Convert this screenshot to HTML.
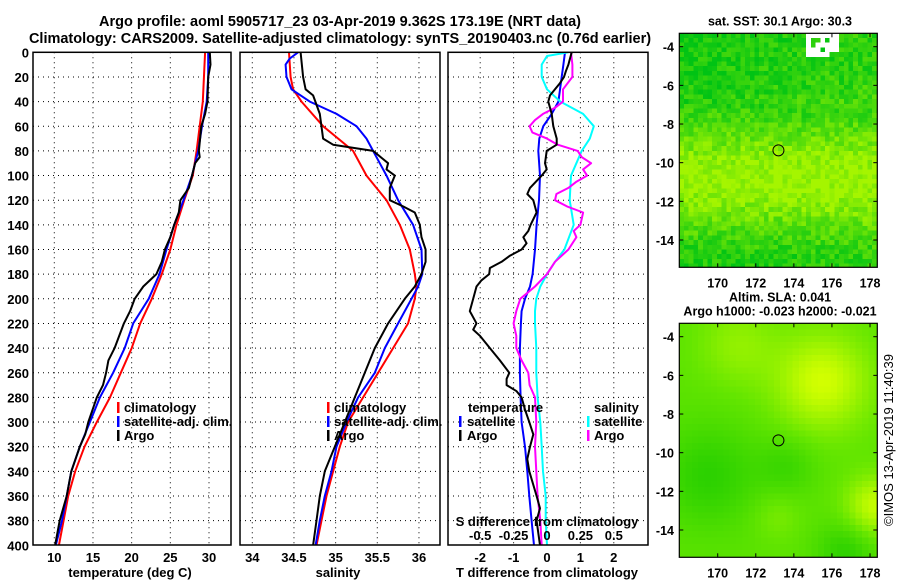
<!DOCTYPE html>
<html><head><meta charset="utf-8">
<style>
body{margin:0;background:#fff;}
svg{display:block;font-family:"Liberation Sans",sans-serif;font-weight:bold;}
</style></head>
<body>
<svg id="fig" width="900" height="580" viewBox="0 0 900 580">
<text x="340" y="26" font-size="14.5" text-anchor="middle">Argo profile: aoml 5905717_23 03-Apr-2019 9.362S 173.19E (NRT data)</text>
<text x="340" y="43" font-size="14.5" text-anchor="middle">Climatology: CARS2009. Satellite-adjusted climatology: synTS_20190403.nc (0.76d earlier)</text>
<g id="maps"></g>
<g id="plots"></g>
<text transform="translate(893,440) rotate(-90)" font-size="13" font-weight="normal" text-anchor="middle">©IMOS 13-Apr-2019 11:40:39</text>
</svg>
<script>
// ---------- data ----------
const tDepthClim=[0,40,60,80,100,120,140,160,180,200,220,240,260,280,300,320,340,360,380,400];
const tempClim=[29.5,29.2,28.8,28.4,27.9,26.8,25.8,25.0,23.9,22.6,21.1,20.0,18.6,17.2,15.5,13.9,12.7,11.8,11.2,10.6];
const tDepthSat=[0,20,40,60,80,100,120,140,160,180,200,220,240,260,280,300,320,340,360,380,400];
const tempSat=[29.9,29.9,29.7,29.1,28.6,27.8,26.7,25.5,24.5,23.6,22.2,20.2,19.1,17.6,15.9,14.6,13.3,12.2,11.6,11.0,10.2];
const tDepthArgo=[0,10,20,40,50,60,80,85,90,100,110,120,130,140,150,160,170,180,190,200,210,220,240,250,260,270,280,300,310,320,340,360,380,400];
const tempArgo=[30.1,30.2,29.9,29.8,29.5,29.0,28.7,28.8,28.2,27.8,27.4,26.3,26.1,25.5,25.0,24.3,23.9,23.2,21.5,20.4,19.8,19.0,17.8,17.0,16.7,16.3,15.5,14.4,14.0,13.3,12.2,11.6,10.7,10.1];

const sDepthClim=[0,20,30,40,60,80,100,120,140,160,180,190,200,220,240,260,280,300,320,340,360,380,400];
const salClim=[34.44,34.46,34.49,34.59,34.85,35.21,35.37,35.61,35.77,35.89,35.95,35.97,35.95,35.87,35.69,35.51,35.33,35.15,35.05,34.97,34.89,34.83,34.77];
const sDepthSat=[0,5,10,20,30,40,50,60,70,80,100,120,140,160,180,190,200,220,240,260,280,300,320,340,360,380,400];
const salSat=[34.55,34.45,34.40,34.41,34.47,34.69,35.01,35.25,35.37,35.45,35.61,35.75,35.93,36.03,36.04,35.99,35.91,35.75,35.59,35.47,35.27,35.13,35.01,34.95,34.87,34.81,34.76];
const sDepthArgo=[0,20,30,35,50,70,75,80,90,95,100,110,120,125,130,140,150,160,170,180,190,200,210,220,240,260,270,280,300,320,330,340,360,380,400];
const salArgo=[34.58,34.61,34.64,34.73,34.81,34.85,34.97,35.45,35.63,35.61,35.71,35.65,35.65,35.81,35.95,36.01,36.03,36.08,36.08,36.03,35.95,35.83,35.73,35.63,35.47,35.35,35.29,35.23,35.11,34.99,34.93,34.87,34.81,34.77,34.73];

const dtSatDepth=[0,10,20,40,50,60,70,80,100,120,140,160,180,190,200,210,220,240,260,280,300,320,340,360,380,400];
const dtSat=[0.54,0.49,0.44,0.34,0.14,-0.11,-0.23,-0.26,-0.21,-0.24,-0.31,-0.36,-0.43,-0.51,-0.66,-0.76,-0.78,-0.81,-0.81,-0.79,-0.76,-0.66,-0.59,-0.53,-0.46,-0.39];
const dtArgoDepth=[0,5,10,15,20,25,30,35,40,50,60,70,75,80,90,95,100,110,115,120,130,140,145,150,155,160,165,170,175,180,185,190,200,210,215,220,225,230,240,250,260,265,270,275,280,290,300,310,320,330,340,360,370,380,390,400];
const dtArgo=[0.74,0.69,0.64,0.57,0.51,0.39,0.24,0.09,0.04,0.14,0.19,0.29,0.29,-0.01,-0.06,-0.01,-0.16,-0.51,-0.59,-0.41,-0.31,-0.49,-0.56,-0.71,-0.61,-0.76,-1.11,-1.36,-1.71,-1.73,-1.96,-2.11,-2.21,-2.31,-2.21,-2.11,-2.21,-2.01,-1.71,-1.41,-1.13,-1.21,-1.21,-0.91,-0.76,-0.66,-0.53,-0.41,-0.51,-0.59,-0.53,-0.31,-0.21,-0.31,-0.26,-0.21];
const dsSatDepth=[0,3,10,20,30,40,50,60,70,80,90,100,120,140,160,170,180,190,200,210,220,240,260,280,300,320,340,360,380,400];
const dsSat=[0.16,0.0,-0.04,-0.04,0.0,0.10,0.27,0.35,0.32,0.26,0.22,0.18,0.17,0.20,0.13,0.06,0.0,-0.05,-0.08,-0.09,-0.09,-0.08,-0.08,-0.07,-0.05,-0.04,-0.03,-0.01,-0.01,0.0];
const dsArgoDepth=[0,10,20,30,40,45,50,55,60,65,70,75,80,85,90,95,100,105,110,115,120,125,130,140,145,150,160,170,180,190,200,210,220,230,240,250,260,270,280,300,320,340,360,380,400];
const dsArgo=[0.18,0.19,0.19,0.12,0.12,0.06,-0.03,-0.09,-0.13,-0.11,0.0,0.08,0.23,0.26,0.33,0.27,0.30,0.22,0.16,0.07,0.06,0.15,0.27,0.25,0.20,0.22,0.16,0.06,0.0,-0.09,-0.20,-0.23,-0.25,-0.23,-0.23,-0.19,-0.14,-0.13,-0.09,-0.08,-0.09,-0.08,-0.07,-0.05,-0.04];

const depthTicks=[0,20,40,60,80,100,120,140,160,180,200,220,240,260,280,300,320,340,360,380,400];
const tempTicks=[10,15,20,25,30];
const salTicks=[34,34.5,35,35.5,36];
const salTickLabels=["34","34.5","35","35.5","36"];
const dtTicks=[-2,-1,0,1,2];
const dsTicks=[-0.5,-0.25,0,0.25,0.5];
const dsTickLabels=["-0.5","-0.25","0","0.25","0.5"];
const lonTicks=[170,172,174,176,178];
const latTicks=[-4,-6,-8,-10,-12,-14];

// ---------- helpers ----------
const NS="http://www.w3.org/2000/svg";
function mk(tag,attrs,parent){const e=document.createElementNS(NS,tag);for(const k in attrs)e.setAttribute(k,attrs[k]);parent.appendChild(e);return e;}
const plots=document.getElementById('plots');
const Y0=52.3,YK=1.2325,YB=545;
const yD=d=>Y0+d*YK;
const xT=t=>54.3+(t-10)*7.735;
const xS=s=>252.3+(s-34)*83.33;
const xDT=v=>547+v*33.4;
const xDS=v=>547+v*133.6;

function frame(x0,x1,name){
  const g=mk('g',{},plots);
  
  
  return g;
}
function gridH(g,x0,x1){
  depthTicks.forEach((d,i)=>{ if(i>0&&i<depthTicks.length-1){
    const l=mk('line',{x1:x0,x2:x1,y1:yD(d),y2:yD(d),stroke:'#000','stroke-width':1,'stroke-dasharray':'1,4'},g);
    
    
  }});
}
function gridV(g,xs){
  xs.forEach(x=>{
    const l=mk('line',{x1:x,x2:x,y1:Y0,y2:YB,stroke:'#000','stroke-width':1,'stroke-dasharray':'1,4'},g);
    
    
  });
}
function box(g,x0,x1){
  const r=mk('rect',{x:x0,y:Y0,width:x1-x0,height:YB-Y0,fill:'none',stroke:'#000','stroke-width':1.5},g);
  
  
}
function series(g,depths,vals,fx,color,w,name){
  const d=vals.map((v,i)=>(i?'L':'M')+fx(v).toFixed(1)+','+yD(depths[i]).toFixed(1)).join('');
  const p=mk('path',{d:d,fill:'none',stroke:color,'stroke-width':w,'stroke-linejoin':'round'},g);
  
  
}
function txt(g,x,y,s,size,anchor,name){
  const t=mk('text',{x:x,y:y,'font-size':size,'text-anchor':anchor||'start'},g);
  t.textContent=s;
  
  
  return t;
}
function legendMark(g,x,y,color){
  const r=mk('rect',{x:x,y:y-10,width:2.5,height:11,fill:color},g);
  
  
}

// ---------- temperature panel ----------
const g1=frame(33,231,'temperature-panel');
gridH(g1,33,231);gridV(g1,tempTicks.map(xT));
series(g1,tDepthClim,tempClim,xT,'#ff0000',2,'temp-climatology-line');
series(g1,tDepthSat,tempSat,xT,'#0000ff',2,'temp-satellite-line');
series(g1,tDepthArgo,tempArgo,xT,'#000000',2,'temp-argo-line');
box(g1,33,231);
depthTicks.forEach(d=>txt(g1,29,yD(d)+5,String(d),13,'end','depth-tick-label'));
tempTicks.forEach(t=>txt(g1,xT(t),562,String(t),13,'middle','temp-tick-label'));
txt(g1,130,577,'temperature (deg C)',13,'middle','temp-axis-title');
[['climatology','#ff0000'],['satellite-adj. clim.','#0000ff'],['Argo','#000']].forEach((e,i)=>{
  legendMark(g1,117,412+i*14,e[1]);txt(g1,124,412+i*14,e[0],13,'start','legend-entry');});

// ---------- salinity panel ----------
const g2=frame(240,440,'salinity-panel');
gridH(g2,240,440);gridV(g2,salTicks.map(xS));
series(g2,sDepthClim,salClim,xS,'#ff0000',2,'sal-climatology-line');
series(g2,sDepthSat,salSat,xS,'#0000ff',2,'sal-satellite-line');
series(g2,sDepthArgo,salArgo,xS,'#000000',2,'sal-argo-line');
box(g2,240,440);
salTicks.forEach((s,i)=>txt(g2,xS(s),562,salTickLabels[i],13,'middle','sal-tick-label'));
txt(g2,338,577,'salinity',13,'middle','sal-axis-title');
[['climatology','#ff0000'],['satellite-adj. clim.','#0000ff'],['Argo','#000']].forEach((e,i)=>{
  legendMark(g2,327,412+i*14,e[1]);txt(g2,334,412+i*14,e[0],13,'start','legend-entry');});

// ---------- difference panel ----------
const g3=frame(448,648,'difference-panel');
gridH(g3,448,648);gridV(g3,dtTicks.map(xDT));
series(g3,dtSatDepth,dtSat,xDT,'#0000ff',2,'tdiff-satellite-line');
series(g3,dsSatDepth,dsSat,xDS,'#00ffff',2,'sdiff-satellite-line');
series(g3,dsArgoDepth,dsArgo,xDS,'#ff00ff',2,'sdiff-argo-line');
series(g3,dtArgoDepth,dtArgo,xDT,'#000000',2,'tdiff-argo-line');
box(g3,448,648);
dtTicks.forEach(t=>txt(g3,xDT(t),562,String(t),13,'middle','tdiff-tick-label'));
txt(g3,547,577,'T difference from climatology',13,'middle','tdiff-axis-title');
txt(g3,547,526,'S difference from climatology',13,'middle','sdiff-axis-title');
dsTicks.forEach((t,i)=>txt(g3,xDS(t),540,dsTickLabels[i],13,'middle','sdiff-tick-label'));
txt(g3,468,412,'temperature',13,'start','legend-title-temperature');
legendMark(g3,459,426,'#0000ff');txt(g3,467,426,'satellite',13,'start','legend-entry');
legendMark(g3,459,440,'#000');txt(g3,467,440,'Argo',13,'start','legend-entry');
txt(g3,594,412,'salinity',13,'start','legend-title-salinity');
legendMark(g3,587,426,'#00ffff');txt(g3,594,426,'satellite',13,'start','legend-entry');
legendMark(g3,587,440,'#ff00ff');txt(g3,594,440,'Argo',13,'start','legend-entry');

// ---------- maps ----------
const maps=document.getElementById('maps');
const MX0=679.3,MX1=877.3;
const lonX=l=>717.7+(l-170)*19.04;
function hash(i,j,s){let h=(i*374761393+j*668265263+s*1442695041)|0;h=(h^(h>>>13))*1274126177|0;return ((h^(h>>>16))>>>0)/4294967296;}
function lerp(a,b,t){return a.map((v,i)=>Math.round(v+(b[i]-v)*t));}
function drawMap(top,kind,name,titleLines){
  const g=mk('g',{},maps);
  
  
  const latY=l=>top+13.4+(-4-l)*19.33;
  const H=234,W=MX1-MX0;
  const cs=kind==='sst'?4.7:6.3;
  const nx=Math.ceil(W/cs),ny=Math.ceil(H/cs);
  const cg=mk('g',{'shape-rendering':'crispEdges'},g);
  for(let j=0;j<ny;j++)for(let i=0;i<nx;i++){
    const fx=(i+0.5)/nx,fy=(j+0.5)/ny;let c;
    if(kind==='sst'){
      let v=0.1+0.85*Math.exp(-Math.pow((fy-0.62)/0.24,2));
      v+=0.2*fx*(fy<0.3?1:0.3);
      v+= (hash(i,j,1)-0.5)*0.5;
      v=Math.max(0,Math.min(1,v));
      c=lerp([0,195,20],[165,245,0],v);
      if(fy<0.11&&fx>0.63&&fx<0.78&&hash(i,j,2)>0.25)c=[255,255,255];
    } else {
      const lon=168+fx*10.3,lat=-3.4-fy*11.9;
      const G=(a,b,s)=>Math.exp(-((lon-a)**2+(lat-b)**2)/(s*s));
      let v=0.45+0.55*G(175.3,-6.3,2.4)+0.5*G(178,-12.5,1.5)+0.25*G(171,-4.5,2)-0.3*G(169.5,-11,2.5)-0.3*G(176.5,-14.8,1.5)-0.2*G(173.5,-10.5,1.5)+0.15*G(173,-13,1.2);
      v=Math.max(0,Math.min(1,v));
      c=v<0.5?lerp([20,200,0],[100,230,0],v*2):lerp([100,230,0],[210,255,0],(v-0.5)*2);
    }
    mk('rect',{x:(MX0+i*cs).toFixed(1),y:(top+j*cs).toFixed(1),width:cs+0.3,height:cs+0.3,fill:'rgb('+c.join(',')+')'},cg);
  }
  mk('rect',{x:MX1,y:top-2,width:30,height:H+25,fill:'#fff'},g);
  mk('rect',{x:MX0,y:top+H,width:W+30,height:20,fill:'#fff'},g);
  const fr=mk('rect',{x:MX0,y:top,width:W,height:H,fill:'none',stroke:'#000','stroke-width':1.2},g);
  
  
  const ci=mk('circle',{cx:lonX(173.19),cy:latY(-9.362),r:5.5,fill:'none',stroke:'#000','stroke-width':1},g);
  
  
  lonTicks.forEach(l=>{mk('line',{x1:lonX(l),x2:lonX(l),y1:top,y2:top+4,stroke:'#000'},g);mk('line',{x1:lonX(l),x2:lonX(l),y1:top+H,y2:top+H-4,stroke:'#000'},g);
    txt(g,lonX(l),top+H+20,String(l),12.5,'middle','lon-tick-label');});
  latTicks.forEach(l=>{mk('line',{x1:MX0,x2:MX0+4,y1:latY(l),y2:latY(l),stroke:'#000'},g);mk('line',{x1:MX1,x2:MX1-4,y1:latY(l),y2:latY(l),stroke:'#000'},g);
    txt(g,674,latY(l)+5,String(l),12.5,'end','lat-tick-label');});
  titleLines.forEach((s,i)=>txt(g,780,titleLines.length===1?top-8:top-22+i*14,s,12.5,'middle','map-title'));
}
drawMap(33.3,'sst','sst-map',['sat. SST: 30.1 Argo: 30.3']);
drawMap(323.3,'sla','sla-map',['Altim. SLA: 0.041','Argo h1000: -0.023 h2000: -0.021']);
</script>
</body></html>
